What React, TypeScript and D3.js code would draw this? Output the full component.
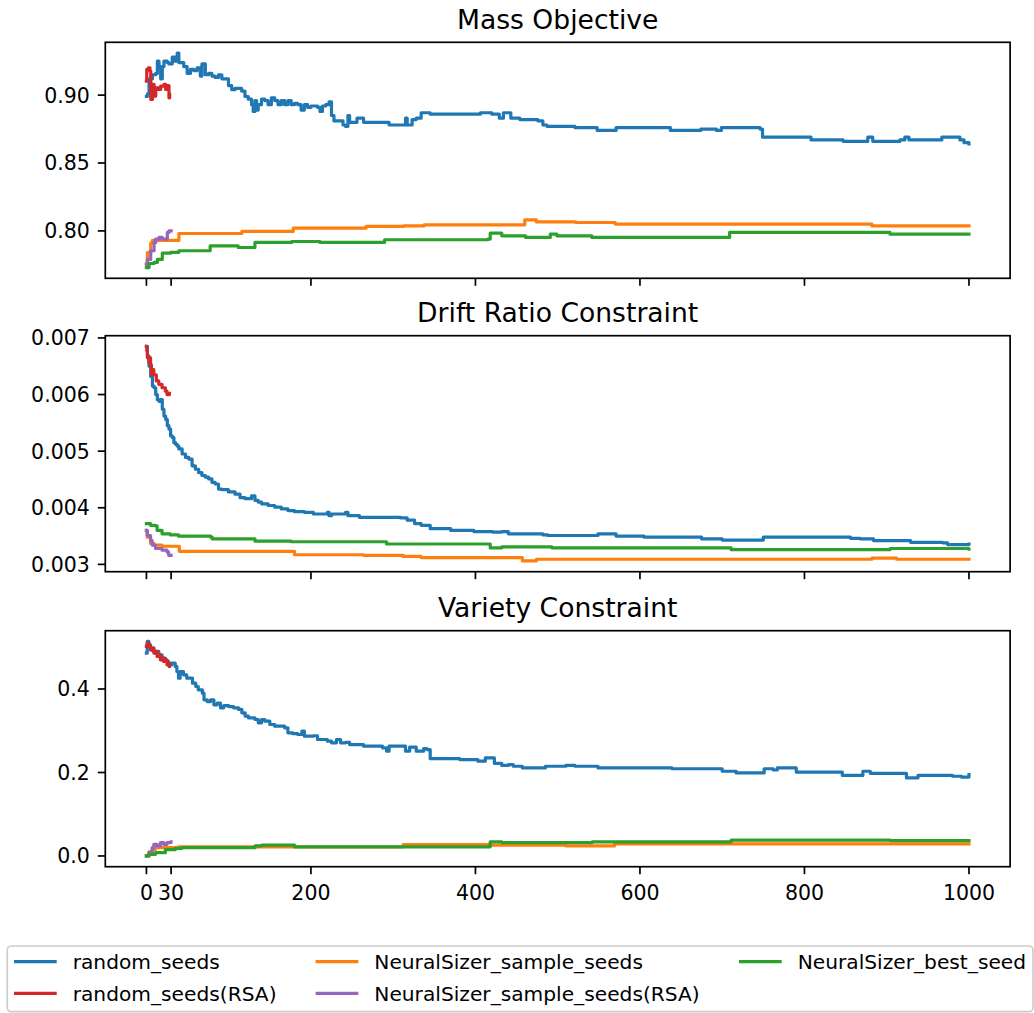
import React from 'react';
import * as d3 from 'd3';

type Pt = [number, number];

const xTicks = [0, 30, 200, 400, 600, 800, 1000];
const massTicks = [0.8, 0.85, 0.9];
const driftTicks = [0.003, 0.004, 0.005, 0.006, 0.007];
const varietyTicks = [0.0, 0.2, 0.4];

const panelTitles = ['Mass Objective', 'Drift Ratio Constraint', 'Variety Constraint'];
const seriesNames = ['random_seeds', 'random_seeds(RSA)', 'NeuralSizer_sample_seeds', 'NeuralSizer_sample_seeds(RSA)', 'NeuralSizer_best_seed'];
const seriesColors = ['#1f77b4', '#d62728', '#ff7f0e', '#9467bd', '#2ca02c'];

// ---------- Mass Objective ----------
const massRandom: Pt[] = [[0,0.899],[1.2,0.901],[3.2,0.912],[7.3,0.915],[11.3,0.916],[13.3,0.925],[15.3,0.921],[17.3,0.912],[19.3,0.921],[21.3,0.925],[25.3,0.924],[27.4,0.923],[31.4,0.928],[34.6,0.925],[37.4,0.931],[39.4,0.924],[43.4,0.924],[45.4,0.921],[49.5,0.916],[53.5,0.919],[57.5,0.918],[61.5,0.92],[65.5,0.914],[67.5,0.923],[71.6,0.915],[75.6,0.916],[79.6,0.914],[83.6,0.913],[87.6,0.915],[91.7,0.912],[95.7,0.912],[99.7,0.907],[103.7,0.904],[107.7,0.905],[111.8,0.905],[115.8,0.903],[119.8,0.899],[123.8,0.897],[127.8,0.893],[129.8,0.888],[131.9,0.896],[133.9,0.889],[135.9,0.893],[139.9,0.897],[143.9,0.896],[147.9,0.893],[151.9,0.898],[156,0.896],[160,0.893],[164,0.896],[168,0.893],[172,0.896],[176,0.893],[180,0.894],[184,0.893],[188,0.889],[192,0.893],[196,0.891],[200,0.892],[204,0.892],[208,0.891],[211,0.888],[214,0.892],[218,0.893],[222,0.895],[225,0.885],[228,0.881],[234,0.881],[239,0.878],[242,0.877],[245,0.885],[247,0.88],[253,0.88],[256,0.883],[261,0.883],[264,0.88],[292,0.88],[295,0.878],[312,0.878],[315,0.883],[317,0.878],[323,0.882],[328,0.883],[334,0.887],[345,0.886],[378,0.886],[406,0.887],[420,0.886],[429,0.883],[434,0.887],[443,0.883],[454,0.882],[476,0.881],[482,0.878],[487,0.877],[507,0.877],[521,0.876],[537,0.876],[548,0.874],[565,0.874],[571,0.876],[598,0.876],[634,0.876],[637,0.874],[671,0.874],[674,0.875],[690,0.875],[693,0.874],[699,0.876],[729,0.876],[746,0.875],[749,0.869],[805,0.869],[808,0.867],[841,0.867],[847,0.866],[866,0.866],[877,0.869],[883,0.866],[916,0.867],[922,0.869],[927,0.867],[939,0.867],[967,0.869],[978,0.869],[989,0.867],[994,0.865],[1000,0.864]];
const massRandomRSA: Pt[] = [[0,0.9103],[0.4,0.9189],[2.3,0.92],[4.3,0.9177],[5.3,0.8968],[7.3,0.9079],[9.3,0.8993],[11.3,0.9054],[14.5,0.9042],[17.3,0.9066],[21.3,0.9079],[23.4,0.9042],[25.4,0.9071],[27.4,0.898],[28.2,0.9005]];
const massSample: Pt[] = [[0,0.7756],[1.2,0.784],[5.2,0.791],[7.3,0.793],[39,0.793],[39.5,0.7981],[115.5,0.7981],[116,0.7996],[178,0.7996],[178.5,0.802],[266,0.802],[267,0.8033],[312,0.8033],[312.5,0.8037],[337,0.8037],[337.5,0.8045],[457,0.8045],[460,0.8082],[471,0.8082],[474,0.8067],[521,0.8067],[522,0.8062],[569,0.8062],[570,0.805],[879,0.805],[882,0.8037],[1000,0.8037]];
const massSampleRSA: Pt[] = [[0,0.7756],[1.2,0.779],[5.2,0.7854],[9.3,0.7915],[11.3,0.794],[15.3,0.7952],[19.3,0.794],[23.4,0.794],[25.4,0.7989],[27.4,0.8],[30,0.8]];
const massBest: Pt[] = [[0,0.773],[3.2,0.776],[9.3,0.7768],[13.3,0.779],[19.3,0.7836],[29.4,0.7842],[39.4,0.7854],[77,0.7854],[77.5,0.789],[111,0.789],[111.5,0.7878],[131,0.7878],[131.9,0.7915],[176,0.7915],[176.5,0.7922],[210,0.7922],[211,0.7915],[289,0.7915],[289.5,0.7935],[415,0.794],[418,0.7984],[432,0.7964],[460,0.7964],[461,0.7952],[488,0.7952],[491,0.7976],[499,0.7964],[541,0.7964],[541.5,0.7952],[706,0.7952],[709,0.7989],[901,0.7989],[904,0.7976],[1000,0.7976]];

// ---------- Drift Ratio Constraint ----------
const driftRandom: Pt[] = [[0,0.00685],[1.2,0.00668],[3.2,0.0065],[5.2,0.00632],[7.3,0.00615],[9.3,0.00612],[11.3,0.006],[13.3,0.00591],[15.3,0.00588],[17.3,0.00591],[19.3,0.00574],[21.3,0.00562],[23.4,0.00556],[25.4,0.00545],[27.4,0.00539],[29.4,0.00527],[31.4,0.00524],[33.4,0.00515],[35.4,0.00512],[37.4,0.00509],[39.4,0.00504],[43.4,0.00495],[47.5,0.00489],[51.5,0.00486],[55.5,0.00474],[59.5,0.00468],[63.5,0.00462],[67.5,0.00457],[71.6,0.00454],[75.6,0.00451],[79.6,0.00445],[83.6,0.00442],[87.6,0.00433],[91.7,0.00432],[99.7,0.00428],[107.7,0.00424],[113.8,0.00418],[119.8,0.00416],[127.8,0.00421],[131.9,0.00413],[135.9,0.0041],[140,0.00407],[148,0.00404],[156,0.00401],[164,0.00398],[172,0.00395],[180,0.00393],[188,0.00393],[192,0.00392],[203,0.00389],[212,0.00389],[220,0.00392],[222,0.00386],[225,0.00389],[242,0.00392],[245,0.00386],[259,0.00383],[309,0.00382],[317,0.00378],[326,0.00372],[334,0.00369],[345,0.00363],[370,0.0036],[398,0.00358],[421,0.00357],[432,0.00358],[440,0.00354],[482,0.00352],[488,0.00351],[532,0.00351],[549,0.00354],[571,0.0035],[605,0.00348],[672,0.00348],[675,0.00345],[700,0.00343],[748,0.00343],[750,0.00348],[856,0.00346],[868,0.00345],[884,0.00342],[929,0.00339],[968,0.00338],[974,0.00335],[1000,0.00336]];
const driftRandomRSA: Pt[] = [[0,0.00685],[0.5,0.00677],[1.2,0.00665],[3,0.00656],[4,0.00665],[5,0.00653],[6,0.00635],[7,0.00644],[9,0.00635],[11,0.00635],[12,0.00624],[15,0.00618],[19,0.00612],[23,0.00606],[25,0.006],[28,0.00602]];
const driftSample: Pt[] = [[0,0.0036],[1,0.00348],[5,0.00337],[9,0.00334],[19,0.00332],[39,0.00332],[40,0.00323],[178,0.00323],[180,0.00317],[263,0.00317],[264,0.00316],[311,0.00316],[312,0.00314],[333,0.00314],[334,0.00312],[454,0.00312],[457,0.00306],[471,0.00306],[474,0.00309],[879,0.00309],[882,0.00311],[907,0.00311],[912,0.00309],[1000,0.00309]];
const driftSampleRSA: Pt[] = [[0,0.0036],[1,0.00351],[5,0.00342],[7,0.00334],[11,0.00328],[19,0.00325],[25,0.00322],[27,0.00316],[30,0.00316]];
const driftBest: Pt[] = [[0,0.00372],[5,0.00369],[11,0.00368],[13,0.0036],[19,0.00354],[29,0.00352],[39,0.0035],[78,0.00348],[80,0.00345],[130,0.00345],[132,0.00341],[176,0.0034],[289,0.0034],[292,0.00336],[415,0.00336],[418,0.00329],[432,0.00331],[491,0.00331],[493,0.00329],[708,0.00329],[711,0.00326],[901,0.00326],[904,0.00328],[1000,0.00327]];

// ---------- Variety Constraint ----------
const varietyRandom: Pt[] = [[0,0.486],[1,0.514],[3,0.506],[5,0.494],[7,0.498],[9,0.49],[11,0.486],[13,0.49],[15,0.478],[17,0.482],[19,0.47],[21,0.474],[23,0.466],[27,0.458],[31,0.462],[35,0.454],[37,0.442],[39,0.426],[41,0.442],[45,0.434],[49,0.426],[56,0.414],[60,0.406],[63,0.398],[68,0.39],[70,0.374],[74,0.37],[78,0.374],[82,0.362],[86,0.366],[90,0.355],[94,0.36],[100,0.358],[106,0.355],[112,0.351],[116,0.343],[120,0.335],[124,0.331],[132,0.327],[136,0.319],[140,0.327],[144,0.323],[150,0.315],[156,0.311],[164,0.311],[168,0.307],[172,0.295],[178,0.293],[184,0.291],[189,0.299],[192,0.287],[203,0.288],[208,0.279],[220,0.275],[225,0.271],[231,0.279],[236,0.271],[242,0.272],[247,0.267],[264,0.263],[287,0.259],[292,0.251],[295,0.263],[312,0.263],[315,0.251],[320,0.261],[328,0.251],[337,0.257],[341,0.255],[345,0.233],[381,0.231],[403,0.227],[412,0.235],[420,0.235],[423,0.222],[432,0.217],[440,0.219],[446,0.215],[457,0.211],[474,0.211],[485,0.215],[510,0.217],[521,0.215],[546,0.215],[549,0.211],[605,0.211],[639,0.209],[698,0.209],[700,0.203],[714,0.203],[717,0.199],[748,0.199],[751,0.209],[762,0.206],[767,0.211],[787,0.211],[790,0.201],[840,0.201],[846,0.193],[866,0.193],[871,0.203],[880,0.198],[919,0.198],[924,0.187],[938,0.193],[980,0.191],[991,0.189],[1000,0.195]];
const varietyRandomRSA: Pt[] = [[0,0.502],[1,0.51],[3,0.502],[5,0.494],[7,0.498],[9,0.486],[11,0.49],[13,0.478],[15,0.482],[17,0.47],[19,0.474],[21,0.466],[23,0.47],[25,0.458],[27,0.462],[28,0.454]];
const varietySample: Pt[] = [[0,0],[3,0.01],[7,0.016],[11,0.02],[39,0.022],[311,0.022],[312,0.027],[415,0.027],[418,0.026],[509,0.026],[510,0.024],[568,0.024],[569,0.029],[1000,0.029]];
const varietySampleRSA: Pt[] = [[0,0],[3,0.008],[7,0.02],[9,0.028],[13,0.024],[17,0.032],[21,0.028],[25,0.032],[30,0.034]];
const varietyBest: Pt[] = [[0,0],[3,0.004],[11,0.008],[23,0.015],[35,0.018],[43,0.02],[128,0.02],[132,0.024],[140,0.026],[172,0.026],[180,0.022],[415,0.022],[418,0.034],[432,0.032],[541,0.032],[542,0.034],[708,0.034],[711,0.038],[901,0.038],[904,0.037],[1000,0.037]];

const panels = [
  { title: panelTitles[0], ticks: massTicks, fmt: d3.format('.2f'), series: [massRandom, massRandomRSA, massSample, massSampleRSA, massBest] },
  { title: panelTitles[1], ticks: driftTicks, fmt: d3.format('.3f'), series: [driftRandom, driftRandomRSA, driftSample, driftSampleRSA, driftBest] },
  { title: panelTitles[2], ticks: varietyTicks, fmt: d3.format('.1f'), series: [varietyRandom, varietyRandomRSA, varietySample, varietySampleRSA, varietyBest] },
];

const W = 1034, H = 1013;
const LEFT = 105.3, RIGHT = 1010.1;
const PANEL_TOPS = [42.3, 335.7, 630.7];
const PANEL_H = 236;
const FONT = "'DejaVu Sans', sans-serif";
const TICK_FS = 20.5;
const LEGEND_FS = 20.2;
const TITLE_FS = 26.6;
const TICK_LEN = 7.5;
const SPINE = 1.7;
const LW = 3.2;

const xScale = d3.scaleLinear().domain([-50, 1050]).range([LEFT, RIGHT]);

function Panel({ p, top, last }: { p: typeof panels[0]; top: number; last: boolean }) {
  const all = p.series.flat();
  const ext = d3.extent(all, (d) => d[1]) as [number, number];
  const pad = (ext[1] - ext[0]) * 0.05;
  const y = d3.scaleLinear().domain([ext[0] - pad, ext[1] + pad]).range([top + PANEL_H, top]);
  const line = d3.line<Pt>().x((d) => xScale(d[0])).y((d) => y(d[1])).curve(d3.curveStepAfter);
  const bottom = top + PANEL_H;
  return (
    <g>
      <text x={(LEFT + RIGHT) / 2} y={top - 13.5} textAnchor="middle" fontSize={TITLE_FS} fontFamily={FONT} fill="#000">{p.title}</text>
      {p.series.map((s, i) => (
        <path key={i} d={line(s) || ''} fill="none" stroke={seriesColors[i]} strokeWidth={LW} strokeLinejoin="round" strokeLinecap="square" />
      ))}
      <rect x={LEFT} y={top} width={RIGHT - LEFT} height={PANEL_H} fill="none" stroke="#000" strokeWidth={SPINE} />
      {p.ticks.map((t) => (
        <g key={t}>
          <line x1={LEFT - TICK_LEN} x2={LEFT} y1={y(t)} y2={y(t)} stroke="#000" strokeWidth={SPINE} />
          <text x={LEFT - 15.5} y={y(t)} dy="0.36em" textAnchor="end" fontSize={TICK_FS} fontFamily={FONT} fill="#000">{p.fmt(t)}</text>
        </g>
      ))}
      {xTicks.map((t) => (
        <g key={t}>
          <line x1={xScale(t)} x2={xScale(t)} y1={bottom} y2={bottom + TICK_LEN} stroke="#000" strokeWidth={SPINE} />
          {last && (
            <text x={xScale(t)} y={bottom + 33.3} textAnchor="middle" fontSize={TICK_FS} fontFamily={FONT} fill="#000">{String(t)}</text>
          )}
        </g>
      ))}
    </g>
  );
}

const legendCols = [
  { handle: 14, text: 72.7 },
  { handle: 315.6, text: 374.3 },
  { handle: 739, text: 797.7 },
];
const legendRows = [961.7, 993.3];

export default function App() {
  return (
    <svg width={W} height={H} viewBox={`0 0 ${W} ${H}`} style={{ position: 'absolute', left: 0, top: 0, background: '#fff' }}>
      <rect x={0} y={0} width={W} height={H} fill="#fff" />
      {panels.map((p, i) => (
        <Panel key={i} p={p} top={PANEL_TOPS[i]} last={i === panels.length - 1} />
      ))}
      <rect x={7.3} y={946} width={1025.7} height={65.7} rx={4} ry={4} fill="#fff" fillOpacity={0.8} stroke="#cccccc" strokeWidth={1.7} />
      {seriesNames.map((name, i) => {
        const col = legendCols[Math.floor(i / 2)];
        const ry = legendRows[i % 2];
        return (
          <g key={name}>
            <line x1={col.handle} x2={col.handle + 42.7} y1={ry} y2={ry} stroke={seriesColors[i]} strokeWidth={LW} />
            <text x={col.text} y={ry} dy="0.36em" fontSize={LEGEND_FS} fontFamily={FONT} fill="#000">{name}</text>
          </g>
        );
      })}
    </svg>
  );
}
